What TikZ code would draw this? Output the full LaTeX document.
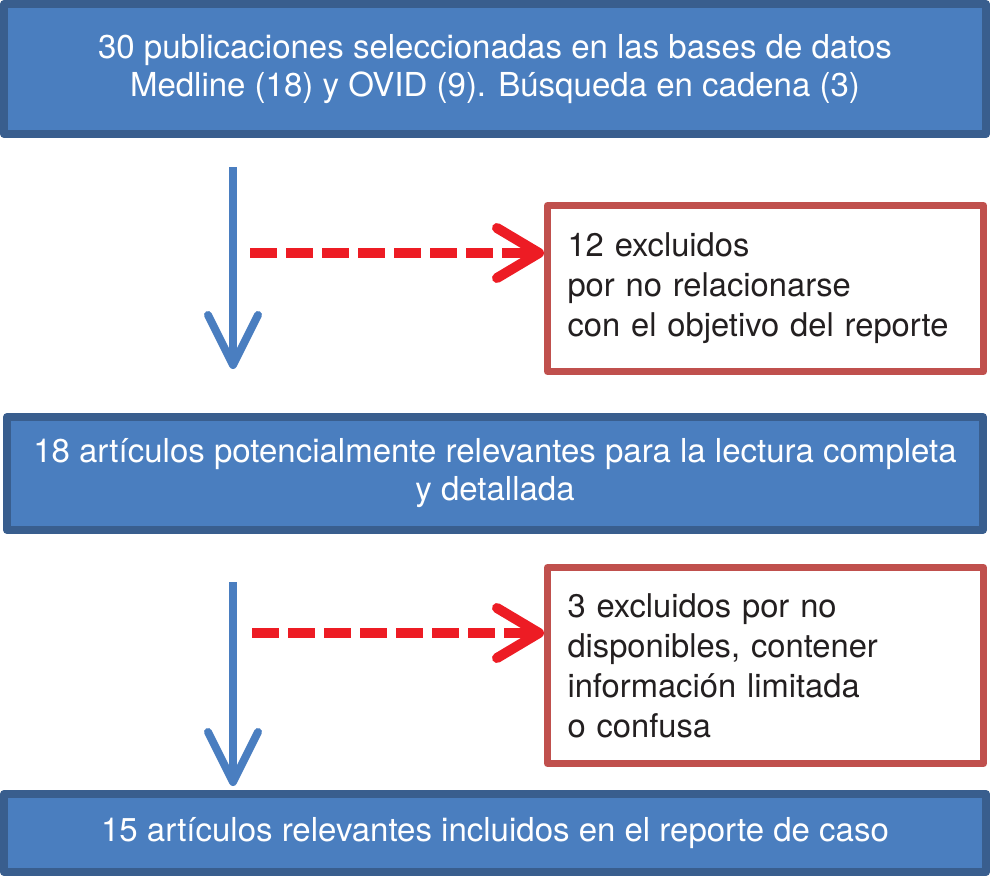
\documentclass[tikz,border=0pt]{standalone}
\usepackage{fontspec}
\setmainfont{TeX Gyre Heros}
\usepackage{tikz}
\usetikzlibrary{arrows.meta}
\definecolor{boxfill}{RGB}{74,126,191}
\definecolor{boxline}{RGB}{57,94,142}
\definecolor{exline}{RGB}{192,80,77}
\definecolor{skipred}{RGB}{237,28,36}
\definecolor{flowblue}{RGB}{74,126,192}
\definecolor{extext}{RGB}{35,31,32}
\tikzset{
  every picture/.style={line join=round, line cap=round},
  bluebox/.style={draw=boxline, fill=boxfill, line width=8pt, text=white, align=center,
    inner sep=0pt, minimum width=982pt, font=\fontsize{33}{38}\selectfont},
  redbox/.style={draw=exline, fill=white, line width=7pt, text=extext, align=left,
    inner xsep=20pt, inner ysep=0pt, text width=396pt, minimum height=166pt,
    font=\fontsize{32.7}{40}\selectfont},
  flowarrow/.style={draw=flowblue, line width=8pt, line cap=butt,
    -{Straight Barb[length=50pt,width=50pt,round]}},
  skiparrow/.style={draw=skipred, line width=10pt, line cap=butt, dash pattern=on 27pt off 9pt,
    -{Straight Barb[length=42pt,width=50pt,round]}},
}
\begin{document}
\begin{tikzpicture}[x=1pt,y=-1pt]
\useasboundingbox (0,0) rectangle (990,876);
\node[bluebox, minimum height=130pt] (pub) at (495,69)
  {30 publicaciones seleccionadas en las bases de datos\\Medline (18) y OVID (9). Búsqueda en cadena (3)};
\node[bluebox, minimum width=976pt, minimum height=113pt] (art) at (495,473.5)
  {18 artículos potencialmente relevantes para la lectura completa\\y detallada};
\node[bluebox, minimum height=78pt] (inc) at (495,833)
  {15 artículos relevantes incluidos en el reporte de caso};
\node[redbox] (exa) at (765.5,288.5)
  {12 excluidos\\por no relacionarse\\con el objetivo del reporte};
\node[redbox, minimum height=196pt] (exb) at (765.5,665.5)
  {3 excluidos por no\\disponibles, contener\\información limitada\\o confusa};
% flow
\coordinate (f1) at (233,167);
\coordinate (f1e) at (233,369);
\coordinate (f2) at (233,582);
\coordinate (f2e) at (233,786);
\draw[flowarrow] (f1) -- (f1e);
\draw[flowarrow] (f2) -- (f2e);
% exclusions
\coordinate (s1) at (250,253);
\coordinate (s2) at (252,633);
\draw[skiparrow] (s1) -- (s1 -| exa.west);
\draw[skiparrow] (s2) -- (s2 -| exb.west);
\end{tikzpicture}
\end{document}
